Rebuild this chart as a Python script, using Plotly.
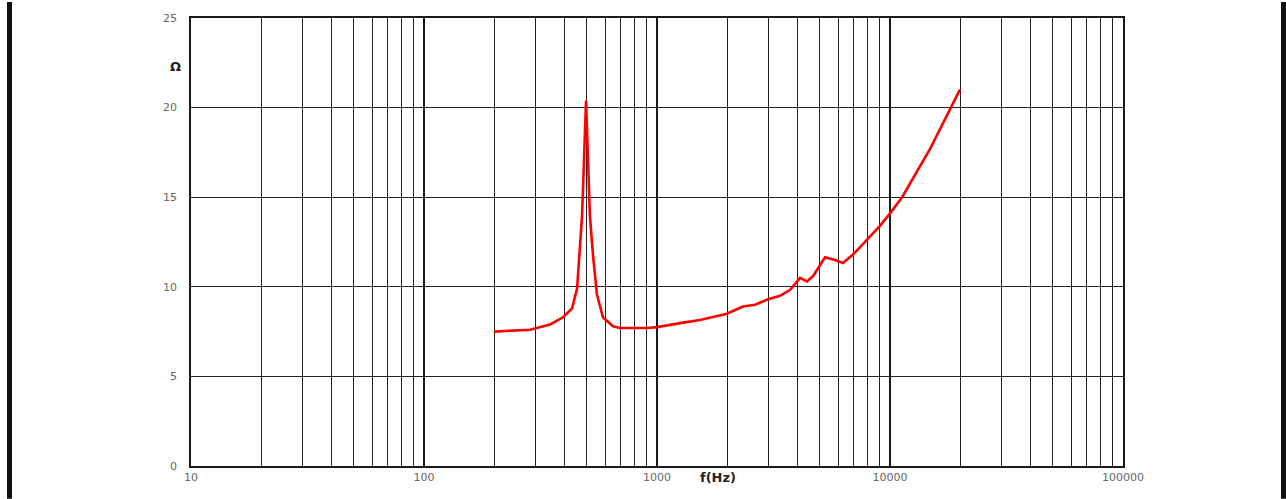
import plotly.graph_objects as go

freq_hz = [200, 285, 348, 395, 432, 454, 477, 496, 515, 531, 552, 586, 647, 693, 906, 1000,
           1294, 1531, 1995, 2338, 2635, 2995, 3373, 3727, 4115, 4407, 4677, 5263, 5810,
           6285, 6938, 7965, 9057, 10000, 11270, 14860, 19960]
impedance_ohm = [7.5, 7.6, 7.9, 8.3, 8.8, 9.9, 14.0, 20.4, 14.0, 11.8, 9.6, 8.3, 7.8, 7.7,
                 7.7, 7.75, 8.0, 8.15, 8.5, 8.9, 9.0, 9.3, 9.5, 9.83, 10.5, 10.3, 10.6,
                 11.65, 11.5, 11.33, 11.8, 12.6, 13.4, 14.1, 15.0, 17.7, 21.0]

x_major = [10, 100, 1000, 10000, 100000]
x_major_text = ["10", "100", "1000", "10000", "100000"]
x_minor = [m * d for d in [10, 100, 1000, 10000] for m in range(2, 10)]
y_ticks = [0, 5, 10, 15, 20, 25]

W, H = 1286, 499
L, R, T, B = 191, 1123, 16, 466

def px(xp):
    return (xp - L) / (R - L)

def py(yp):
    return (B - yp) / (B - T)

fig = go.Figure()
fig.add_trace(go.Scatter(x=freq_hz, y=impedance_ohm, mode="lines",
                         line=dict(color="#ff0000", width=2.6), showlegend=False))

shapes = []
shapes.append(dict(type="rect", xref="paper", yref="paper", x0=px(7), x1=px(12),
                   y0=py(499), y1=py(0), fillcolor="#111111", line=dict(width=0), layer="above"))
shapes.append(dict(type="rect", xref="paper", yref="paper", x0=px(1281), x1=px(1287),
                   y0=py(499), y1=py(0), fillcolor="#111111", line=dict(width=0), layer="above"))

fig.update_layout(
    width=W, height=H,
    margin=dict(l=L, r=W - R, t=T, b=H - B),
    paper_bgcolor="white", plot_bgcolor="rgba(0,0,0,0)",
    shapes=shapes,
    xaxis=dict(type="log", range=[1, 5], tickvals=x_major, ticktext=x_major_text,
               showgrid=True, gridcolor="#1a1a1a", gridwidth=2,
               minor=dict(tickvals=x_minor, showgrid=True, gridcolor="#222222", gridwidth=1.2, ticks=""),
               showline=True, linecolor="#1a1a1a", linewidth=1.5, mirror=True,
               ticks="", zeroline=False,
               tickfont=dict(family="DejaVu Sans", size=11, color="#666666")),
    yaxis=dict(range=[0, 25], tickvals=y_ticks, showgrid=True, gridcolor="#222222", gridwidth=1.2,
               showline=True, linecolor="#1a1a1a", linewidth=1.5, mirror=True,
               ticks="", zeroline=False, ticklabelstandoff=10,
               tickfont=dict(family="DejaVu Sans", size=11, color="#666666")),
    annotations=[
        dict(text="<b>Ω</b>", xref="paper", yref="paper", x=px(168), y=py(55),
             showarrow=False, font=dict(family="DejaVu Sans", size=13, color="#222222")),
        dict(text="<b>f(Hz)</b>", xref="paper", yref="paper", x=px(718), y=py(487),
             showarrow=False, font=dict(family="DejaVu Sans", size=13, color="#222222")),
    ],
)

fig.write_html("out.html", config={"displayModeBar": False},
               post_script="document.body.style.margin='0px';")
